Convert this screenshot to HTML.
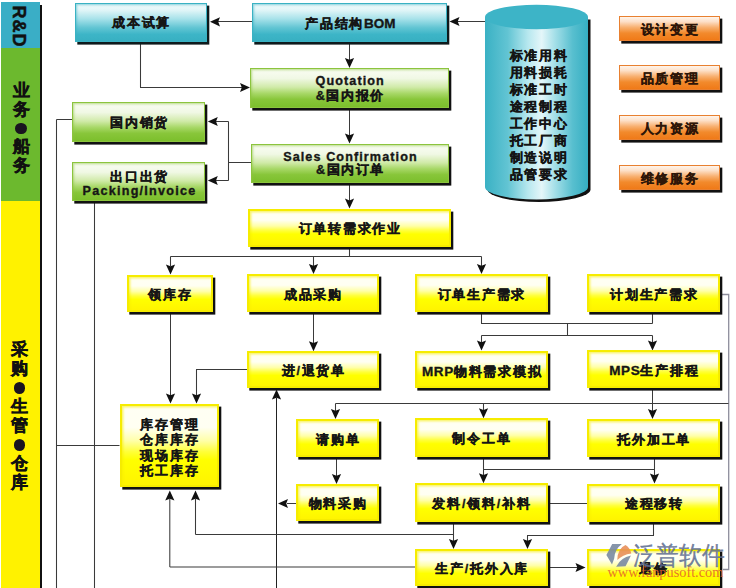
<!DOCTYPE html>
<html><head><meta charset="utf-8"><style>
*{margin:0;padding:0;box-sizing:border-box}
html,body{width:736px;height:588px;overflow:hidden;background:#fff;font-family:"Liberation Sans",sans-serif;position:relative}
.side{position:absolute;left:1px;width:38.5px}
.sb{position:absolute;left:39.5px;top:4.5px;width:2.3px;height:584px;background:#111}
.bx{position:absolute;-webkit-text-stroke:0.35px currentColor;box-shadow:2.3px 2.6px 0 #111;display:flex;align-items:center;justify-content:center;text-align:center;font-weight:bold;font-size:12.6px;color:#161616;letter-spacing:1.75px;line-height:15.3px}
.bx>div{position:relative;top:2.3px;padding-left:1.6px}
.b>div{top:1.6px}
.b{background:linear-gradient(#f4fcfd 0%,#e2f6f8 16%,#a8e2ea 40%,#62c5d3 64%,#3db5c7 82%,#38b0c2 100%);border:1.6px solid #3ab2c3;box-shadow:2.3px 2.6px 0 #0e1a1c,inset 1.2px 1.2px 2px rgba(58,178,195,.5)}
.g{background:linear-gradient(#fafdf4 0%,#f0f8e4 25%,#d0eaa8 48%,#a8d868 64%,#88c63a 80%,#7cbf2c 100%);border:1.8px solid #8cc43e;box-shadow:2.3px 2.6px 0 #111,inset 1.2px 1.2px 2px rgba(140,196,62,.5)}
.y{background:linear-gradient(#fffff4 0%,#fffff2 27%,#ffffa8 44%,#ffff38 58%,#ffff00 68%,#fff400 100%);border:2.5px solid #f6ec00;box-shadow:2.3px 2.6px 0 #111,inset 1.5px 1.5px 2px rgba(246,236,0,.55)}
.o{background:linear-gradient(#fff4ea 0%,#fde0c8 20%,#f8b070 45%,#f28a2c 70%,#f07a18 100%);border:1.5px solid #e88030;color:#2e1608}
.en{letter-spacing:1.1px}
.lat{font-size:13.5px;letter-spacing:0.6px}
.cn2{letter-spacing:1.6px}
.cyl{position:absolute;left:0;top:0}
.cyltxt{position:absolute;-webkit-text-stroke:0.35px currentColor;left:509.5px;top:48.2px;width:64px;font-weight:bold;font-size:12.5px;line-height:17px;letter-spacing:1.8px;color:#141414}
.vt{position:absolute;-webkit-text-stroke:0.5px currentColor;font-weight:bold;color:#111;text-align:center}
</style></head><body>
<div class="side" style="top:2px;height:46px;background:#3aaec6"></div>
<div class="side" style="top:48px;height:153px;background:#6cb92e"></div>
<div class="side" style="top:201px;height:387px;background:#fff200"></div>
<div class="sb"></div>
<div class="vt" style="left:10px;top:5px;width:20px;height:42px;"><div style="position:absolute;left:-13px;top:11px;width:44px;transform:rotate(90deg);font-size:18px;line-height:20px;letter-spacing:1px;text-indent:1px">R&amp;D</div></div>
<div class="vt" style="left:10px;top:82px;width:22px;font-size:17px;line-height:18.7px">业<br>务<br><span style="display:inline-block;width:11.5px;height:11.5px;border-radius:50%;background:#1a1420;vertical-align:-1px"></span><br>船<br>务</div>
<div class="vt" style="left:10px;top:339.5px;width:19px;font-size:17px;line-height:19px">采<br>购<br><span style="display:inline-block;width:11.5px;height:11.5px;border-radius:50%;background:#1a1420;vertical-align:-1px"></span><br>生<br>管<br><span style="display:inline-block;width:11.5px;height:11.5px;border-radius:50%;background:#1a1420;vertical-align:-1px"></span><br>仓<br>库</div>
<svg width="736" height="588" style="position:absolute;left:0;top:0"><path d="M252,21.5 H215" stroke="#3a3a3a" stroke-width="1.05" fill="none"/><path d="M485,21.5 H455" stroke="#3a3a3a" stroke-width="1.05" fill="none"/><path d="M140.5,44 V87.5 H242" stroke="#3a3a3a" stroke-width="1.05" fill="none"/><path d="M349.5,43 V60" stroke="#3a3a3a" stroke-width="1.05" fill="none"/><path d="M349.5,109 V136" stroke="#3a3a3a" stroke-width="1.05" fill="none"/><path d="M251,162.5 H228.5 M228.5,121.5 V180.5 M228.5,121.5 H214 M228.5,180.5 H214" stroke="#3a3a3a" stroke-width="1.05" fill="none"/><path d="M349.5,185 V202" stroke="#3a3a3a" stroke-width="1.05" fill="none"/><path d="M349.5,248.5 V256.5 M170.5,256.5 H481.5 M170.5,256.5 V266 M313.5,256.5 V266 M481.5,256.5 V266" stroke="#3a3a3a" stroke-width="1.05" fill="none"/><path d="M170.5,314 V396" stroke="#3a3a3a" stroke-width="1.05" fill="none"/><path d="M313.5,314 V344" stroke="#3a3a3a" stroke-width="1.05" fill="none"/><path d="M247.5,369.5 H196.5 V396" stroke="#3a3a3a" stroke-width="1.05" fill="none"/><path d="M481.5,313 V323.5 H652.5 M652.5,314 V323.5 M567.5,323.5 V335.5 M481.5,335.5 H652.5 M481.5,335.5 V343 M652.5,335.5 V343" stroke="#3a3a3a" stroke-width="1.05" fill="none"/><path d="M721.5,294.5 H728.7 V569.5 H723" stroke="#8e8e9c" stroke-width="1.3" fill="none"/><path d="M335.5,403.5 H728.5 M335.5,403.5 V412 M483.5,403.5 V412" stroke="#3a3a3a" stroke-width="1.05" fill="none"/><path d="M652.5,390 V412" stroke="#3a3a3a" stroke-width="1.05" fill="none"/><path d="M483.5,458.5 V469.5 H654.5 M654.5,458.5 V469.5 M483.5,469.5 V477 M654.5,469.5 V477" stroke="#3a3a3a" stroke-width="1.05" fill="none"/><path d="M379,503.5 H287" stroke="#3a3a3a" stroke-width="1.05" fill="none"/><path d="M336.5,459 V477" stroke="#3a3a3a" stroke-width="1.05" fill="none"/><path d="M549.5,503.5 H587" stroke="#3a3a3a" stroke-width="1.05" fill="none"/><path d="M276.5,588 V398" stroke="#222" stroke-width="1.05" fill="none"/><path d="M56.5,119.5 H72.5 M56.5,119.5 V588 M56.5,445.5 H119.5" stroke="#3a3a3a" stroke-width="1.05" fill="none"/><path d="M94.5,203 V588" stroke="#3a3a3a" stroke-width="1.05" fill="none"/><path d="M453.5,524 V541 M195.5,534.5 H453.5 M195.5,534.5 V499" stroke="#3a3a3a" stroke-width="1.05" fill="none"/><path d="M653.5,524 V535.5 H527.5 V541" stroke="#3a3a3a" stroke-width="1.05" fill="none"/><path d="M169.8,567 H415.5 M169.8,567 V499" stroke="#3a3a3a" stroke-width="1.05" fill="none"/><path d="M550,567.5 H579" stroke="#3a3a3a" stroke-width="1.05" fill="none"/><polygon points="210.0,21.8 220.0,17.2 218.2,21.8 220.0,26.4" fill="#111"/><polygon points="449.5,21.5 459.5,16.9 457.7,21.5 459.5,26.1" fill="#111"/><polygon points="250.0,87.5 240.0,82.9 241.8,87.5 240.0,92.1" fill="#111"/><polygon points="349.5,68.0 344.9,58.0 349.5,59.8 354.1,58.0" fill="#111"/><polygon points="349.5,143.5 344.9,133.5 349.5,135.3 354.1,133.5" fill="#111"/><polygon points="207.8,121.5 217.8,116.9 216.0,121.5 217.8,126.1" fill="#111"/><polygon points="207.8,180.5 217.8,175.9 216.0,180.5 217.8,185.1" fill="#111"/><polygon points="349.5,208.6 344.9,198.6 349.5,200.4 354.1,198.6" fill="#111"/><polygon points="170.5,274.5 165.9,264.5 170.5,266.3 175.1,264.5" fill="#111"/><polygon points="313.5,274.0 308.9,264.0 313.5,265.8 318.1,264.0" fill="#111"/><polygon points="481.5,274.0 476.9,264.0 481.5,265.8 486.1,264.0" fill="#111"/><polygon points="170.5,403.5 165.9,393.5 170.5,395.3 175.1,393.5" fill="#111"/><polygon points="313.5,351.2 308.9,341.2 313.5,343.0 318.1,341.2" fill="#111"/><polygon points="196.5,403.5 191.9,393.5 196.5,395.3 201.1,393.5" fill="#111"/><polygon points="481.5,350.5 476.9,340.5 481.5,342.3 486.1,340.5" fill="#111"/><polygon points="652.5,350.5 647.9,340.5 652.5,342.3 657.1,340.5" fill="#111"/><polygon points="335.5,419.0 330.9,409.0 335.5,410.8 340.1,409.0" fill="#111"/><polygon points="483.5,418.3 478.9,408.3 483.5,410.1 488.1,408.3" fill="#111"/><polygon points="652.5,418.9 647.9,408.9 652.5,410.7 657.1,408.9" fill="#111"/><polygon points="483.5,483.3 478.9,473.3 483.5,475.1 488.1,473.3" fill="#111"/><polygon points="654.5,483.5 649.9,473.5 654.5,475.3 659.1,473.5" fill="#111"/><polygon points="278.0,503.5 288.0,498.9 286.2,503.5 288.0,508.1" fill="#111"/><polygon points="336.5,484.0 331.9,474.0 336.5,475.8 341.1,474.0" fill="#111"/><polygon points="276.5,389.5 271.9,399.5 276.5,397.7 281.1,399.5" fill="#111"/><polygon points="453.5,549.0 448.9,539.0 453.5,540.8 458.1,539.0" fill="#111"/><polygon points="195.5,490.5 190.9,500.5 195.5,498.7 200.1,500.5" fill="#111"/><polygon points="527.5,549.0 522.9,539.0 527.5,540.8 532.1,539.0" fill="#111"/><polygon points="169.8,490.5 165.2,500.5 169.8,498.7 174.4,500.5" fill="#111"/><polygon points="585.5,567.5 575.5,562.9 577.3,567.5 575.5,572.1" fill="#111"/></svg>
<svg class="cyl" width="736" height="588">
<defs>
<linearGradient id="cg" x1="0" x2="1" y1="0" y2="0">
<stop offset="0" stop-color="#3ab1c4"/><stop offset="0.22" stop-color="#62c4d3"/><stop offset="0.42" stop-color="#b8e8ef"/><stop offset="0.55" stop-color="#e4f6f9"/><stop offset="0.68" stop-color="#a4dfe8"/><stop offset="0.85" stop-color="#58bfcf"/><stop offset="1" stop-color="#35aec2"/>
</linearGradient>
</defs>
<path d="M487.5,19.5 V189.5 A51.5,12.5 0 0 0 590.5,189.5 V19.5 Z" fill="#111"/>
<path d="M485,17 V187 A51.5,12.5 0 0 0 588,187 V17 Z" fill="url(#cg)"/>
<ellipse cx="536.5" cy="17" rx="51.5" ry="12.3" fill="#3db4c7"/>
</svg>
<div class="cyltxt">标准用料<br>用料损耗<br>标准工时<br>途程制程<br>工作中心<br>托工厂商<br>制造说明<br>品管要求</div>
<div class="bx b" style="left:74.9px;top:3.0px;width:132.1px;height:38.6px"><div style="">成本试算</div></div>
<div class="bx b" style="left:252.0px;top:3.3px;width:195.0px;height:39.0px"><div style="top:1px">产品结构<span class="lat" style="letter-spacing:0">BOM</span></div></div>
<div class="bx g" style="left:250.0px;top:68.0px;width:198.8px;height:39.5px"><div style="line-height:14.8px;top:1.2px"><span class="en">Quotation</span><br><span class="cn2">&amp;国内报价</span></div></div>
<div class="bx g" style="left:72.4px;top:101.9px;width:132.9px;height:39.8px"><div style="">国内销货</div></div>
<div class="bx g" style="left:250.5px;top:143.9px;width:198.3px;height:38.8px"><div style="line-height:13px;top:0.8px"><span class="en">Sales Confirmation</span><br><span class="cn2">&amp;国内订单</span></div></div>
<div class="bx g" style="left:72.2px;top:162.2px;width:133.1px;height:39.3px"><div style="line-height:14.3px;top:2.6px">出口出货<br><span class="en" style="letter-spacing:1.25px">Packing/Invoice</span></div></div>
<div class="bx y" style="left:247.8px;top:208.6px;width:203.4px;height:38.1px"><div style="">订单转需求作业</div></div>
<div class="bx y" style="left:126.5px;top:274.5px;width:86.5px;height:37.5px"><div style="">领库存</div></div>
<div class="bx y" style="left:246.5px;top:274.0px;width:132.3px;height:38.3px"><div style="">成品采购</div></div>
<div class="bx y" style="left:414.5px;top:274.0px;width:133.2px;height:37.8px"><div style="">订单生产需求</div></div>
<div class="bx y" style="left:586.9px;top:274.0px;width:133.2px;height:37.8px"><div style="">计划生产需求</div></div>
<div class="bx y" style="left:247.3px;top:351.2px;width:131.5px;height:36.4px"><div style="">进/退货单</div></div>
<div class="bx y" style="left:415.0px;top:350.5px;width:132.7px;height:37.8px"><div style=""><span class="lat">MRP</span>物料需求模拟</div></div>
<div class="bx y" style="left:586.9px;top:350.4px;width:133.1px;height:37.6px"><div style=""><span class="lat">MPS</span>生产排程</div></div>
<div class="bx y" style="left:119.5px;top:404.0px;width:99.0px;height:82.5px"><div style="top:3.5px">库存管理<br>仓库库存<br>现场库存<br>托工库存</div></div>
<div class="bx y" style="left:295.7px;top:419.3px;width:83.3px;height:37.6px"><div style="">请购单</div></div>
<div class="bx y" style="left:414.5px;top:418.2px;width:133.2px;height:38.6px"><div style="">制令工单</div></div>
<div class="bx y" style="left:586.9px;top:418.9px;width:133.1px;height:38.0px"><div style="">托外加工单</div></div>
<div class="bx y" style="left:295.7px;top:484.3px;width:83.3px;height:36.9px"><div style="">物料采购</div></div>
<div class="bx y" style="left:414.5px;top:483.2px;width:133.2px;height:38.6px"><div style="">发料/领料/补料</div></div>
<div class="bx y" style="left:586.9px;top:483.5px;width:133.4px;height:38.5px"><div style="">途程移转</div></div>
<div class="bx y" style="left:415.0px;top:549.2px;width:132.7px;height:36.8px"><div style="">生产/托外入库</div></div>
<div class="bx y" style="left:586.5px;top:548.7px;width:133.8px;height:37.5px"><div style="">退修</div></div>
<div class="bx o" style="left:618.5px;top:15.5px;width:101.5px;height:25.0px"><div style="">设计变更</div></div>
<div class="bx o" style="left:618.5px;top:65.0px;width:101.5px;height:25.2px"><div style="">品质管理</div></div>
<div class="bx o" style="left:618.5px;top:114.5px;width:101.5px;height:25.2px"><div style="">人力资源</div></div>
<div class="bx o" style="left:618.5px;top:164.7px;width:101.5px;height:24.9px"><div style="">维修服务</div></div>
<svg style="position:absolute;left:0;top:0" width="736" height="588">
<g opacity="0.9">
<path d="M612.2,544.1 L621.9,544.1 Q614.6,549.5 614.2,558.5 L612,564.4 L606.4,555 Z" fill="#7a8aa2"/>
<path d="M617.3,560 Q617.5,548.5 625.5,545.1 Q630,548 631.3,553.4 Q622.5,554.5 617.3,560 Z" fill="#e8905a"/>
<path d="M616.1,566.7 Q621,557.5 630.9,555.6 L625.6,566.3 Z" fill="#7a8aa2"/>
</g>
</svg>
<div style="position:absolute;left:632.5px;top:539.5px;font-size:22.5px;line-height:30px;color:rgba(92,108,145,0.85);-webkit-text-stroke:0.35px rgba(92,108,145,0.85);letter-spacing:0px;transform:scaleY(1.1);transform-origin:0 0">泛普软件</div>
<div style="position:absolute;left:607.5px;top:564px;font-family:'Liberation Serif',serif;font-size:14.3px;line-height:16px;color:rgba(228,98,48,0.88)">www.fanpusoft.com</div>

</body></html>
